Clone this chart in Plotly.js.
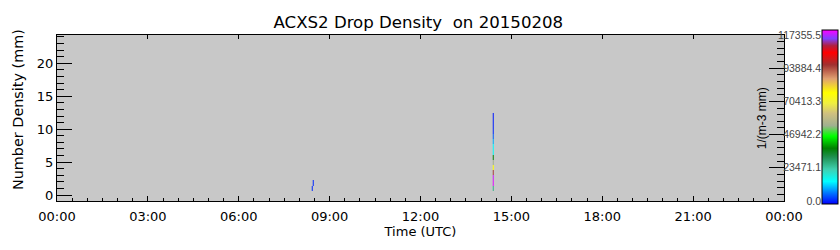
<!DOCTYPE html>
<html>
<head>
<meta charset="utf-8">
<script src="https://cdn.plot.ly/plotly-3.0.1.min.js"></script>
<style>html,body{margin:0;padding:0;background:#fff}#chart{width:840px;height:250px}</style>
</head>
<body>
<div id="chart"></div>
<script>
// ---- data ----
const chartTitle = "ACXS2 Drop Density\u00a0 on 20150208";
const xTitle = "Time (UTC)";
const yTitle = "Number Density (mm)";
const cbTitle = "1/(m-3 mm)";
// time column edges (hours UTC)
const timeEdges = [8.41, 8.44, 8.47, 14.39, 14.42];
// diameter bin edges (mm)
const diamEdges = [0.65, 1.44, 2.23, 3.01, 3.80, 4.59, 5.37, 6.16, 6.95, 7.73, 8.52, 9.31, 10.10, 10.88, 11.67, 12.46];
// drop density per bin (1/(m-3 mm)), bottom bin first, for each time column
const col0824a = [2500, null, null, null, null, null, null, null, null, null, null, null, null, null, null];
const col0824b = [null, 2500, null, null, null, null, null, null, null, null, null, null, null, null, null];
const colGap   = [null, null, null, null, null, null, null, null, null, null, null, null, null, null, null];
const col1424  = [27000, 116000, 115000, 92500, 75000, 53000, 36500, 16000, 15000, 10500, 6000, 2500, 2000, 1800, 1500];
const zMax = 117355.5;
const xTickVals = [0, 3, 6, 9, 12, 15, 18, 21, 24];
const xTickText = ["00:00", "03:00", "06:00", "09:00", "12:00", "15:00", "18:00", "21:00", "00:00"];
const yTickVals = [0, 5, 10, 15, 20];
const cbTickVals = [0, 23471.1, 46942.2, 70413.3, 93884.4, 117355.5];
const cbTickText = ["0.0", "23471.1", "46942.2", "70413.3", "93884.4", "117355.5"];
const colorScale = [
  [0.00, '#0000ff'], [0.06, '#0070ff'], [0.13, '#00ffff'], [0.20, '#40d0b0'],
  [0.27, '#209050'], [0.32, '#008000'], [0.39, '#00ff00'], [0.45, '#a0b090'],
  [0.52, '#d0c080'], [0.58, '#f0f040'], [0.64, '#ffff00'], [0.72, '#e0a070'],
  [0.80, '#a03030'], [0.87, '#ff0000'], [0.91, '#b02040'], [0.95, '#8040ff'],
  [1.00, '#ff00ff']
];

// build z (rows = diameter bins, columns = time columns)
const cols = [col0824a, col0824b, colGap, col1424];
const z = diamEdges.slice(0, -1).map((_, i) => cols.map(c => c[i]));

const font = {family: "DejaVu Sans, Liberation Sans, sans-serif", size: 13, color: "#000"};

const traces = [
  {
    type: 'heatmap', x: timeEdges, y: diamEdges, z: z,
    zmin: 0, zmax: zMax, colorscale: colorScale, zsmooth: false,
    hoverongaps: false,
    colorbar: {
      thickness: 16, outlinewidth: 1, outlinecolor: '#000',
      x: 1.0523, xanchor: 'left', xpad: 0, ypad: 0,
      lenmode: 'pixels', len: 174, y: 0.506, yanchor: 'middle',
      showticklabels: false, ticks: ''
    }
  },
  {type: 'scatter', x: [], y: [], xaxis: 'x2', yaxis: 'y2', showlegend: false, hoverinfo: 'skip'}
];

const layout = {
  width: 840, height: 250,
  margin: {l: 57, r: 56, t: 35, b: 49, autoexpand: false},
  paper_bgcolor: '#fff', plot_bgcolor: '#c8c8c8',
  font: font, showlegend: false,
  title: {text: chartTitle, font: {family: font.family, size: 16.6, color: '#000'},
          x: 0.498, xanchor: 'center', y: 0.912, yanchor: 'middle'},
  xaxis: {
    range: [0, 24], tickvals: xTickVals, ticktext: xTickText,
    ticks: 'inside', ticklen: 5, tickcolor: '#000', tickwidth: 1,
    minor: {dtick: 0.5, tick0: 0, ticks: 'inside', ticklen: 3, tickcolor: '#000', showgrid: false},
    showline: true, linecolor: '#000', linewidth: 1, showgrid: false, zeroline: false,
    ticklabelstandoff: 3,
    tickfont: {size: 13}, title: {text: xTitle, font: {size: 13}, standoff: 3}
  },
  xaxis2: {
    overlaying: 'x', side: 'top', anchor: 'y2', range: [0, 24], tickvals: xTickVals,
    ticks: 'inside', ticklen: 4, tickcolor: '#000', showticklabels: false,
    showline: true, linecolor: '#000', showgrid: false, zeroline: false
  },
  yaxis: {
    range: [-0.9, 24.3], tickvals: yTickVals,
    ticks: 'inside', ticklen: 15, tickcolor: '#000',
    minor: {dtick: 1, tick0: 0, ticks: 'inside', ticklen: 7, tickcolor: '#000', showgrid: false},
    showline: true, linecolor: '#000', showgrid: false, zeroline: false,
    tickfont: {size: 13}
  },
  yaxis2: {
    overlaying: 'y', side: 'right', anchor: 'x2', range: [0, zMax],
    tickvals: cbTickVals, ticktext: cbTickText,
    ticks: 'inside', ticklen: 15, tickcolor: '#000',
    minor: {dtick: zMax / 25, tick0: 0, ticks: 'inside', ticklen: 7, tickcolor: '#000', showgrid: false},
    ticklabelposition: 'inside', ticklabelstandoff: -53, ticklabeloverflow: 'allow',
    showline: true, linecolor: '#000', showgrid: false, zeroline: false,
    tickfont: {family: 'Liberation Sans, Arial, sans-serif', size: 10.5}
  },
  annotations: [
    {
      text: yTitle, xref: 'paper', yref: 'paper', x: -0.0536, y: 0.548,
      xanchor: 'center', yanchor: 'middle', textangle: -90, showarrow: false,
      font: {size: 14.4}
    },
    {
      text: cbTitle, xref: 'paper', yref: 'paper', x: 0.97, y: 0.5,
      xanchor: 'center', yanchor: 'middle', textangle: -90, showarrow: false,
      font: {family: 'Liberation Sans, Arial, sans-serif', size: 12}
    }
  ]
};

Plotly.newPlot('chart', traces, layout, {staticPlot: true, displayModeBar: false});
</script>
</body>
</html>
